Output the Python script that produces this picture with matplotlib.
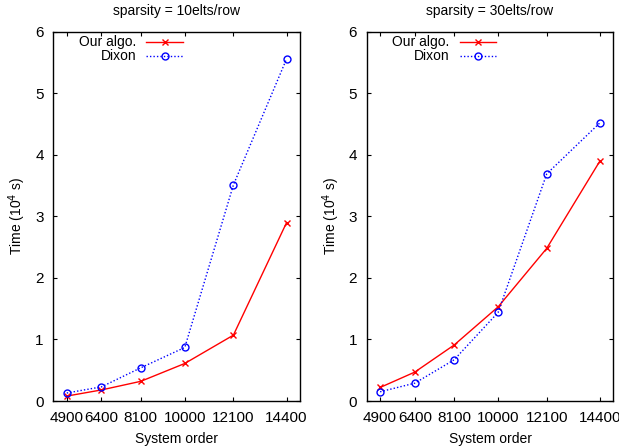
import numpy as np
import matplotlib
matplotlib.use("Agg")
import matplotlib.pyplot as plt

plt.rcParams['font.family'] = ['Liberation Sans', 'DejaVu Sans']

orders = [4900, 6400, 8100, 10000, 12100, 14400]
titles = ["sparsity = 10elts/row", "sparsity = 30elts/row"]

# time in 10^4 s
ours_10 = [0.08, 0.18, 0.32, 0.61, 1.07, 2.90]
dixon_10 = [0.13, 0.23, 0.54, 0.87, 3.51, 5.56]
ours_30 = [0.22, 0.47, 0.91, 1.53, 2.48, 3.90]
dixon_30 = [0.15, 0.29, 0.67, 1.44, 3.69, 4.52]

series = [(ours_10, dixon_10), (ours_30, dixon_30)]

fig = plt.figure(figsize=(6.19, 4.48), dpi=100)
lefts = [0.0862, 0.5924]

for k in range(2):
    ax = fig.add_axes([lefts[k], 0.1049, 0.3985, 0.8243])
    ours, dixon = series[k]
    ax.plot(orders, ours, color="red", linewidth=1, marker="x",
            markersize=5, markeredgewidth=1, label="Our algo.")
    ax.plot(orders, dixon, color="blue", linewidth=1, linestyle=(0, (1, 1.5)),
            marker="o", markersize=5, markerfacecolor="none",
            markeredgewidth=1, label="Dixon")
    ax.set_xlim(4320, 14980)
    ax.set_ylim(0, 6)
    ax.set_xticks(orders)
    ax.set_yticks(range(7))
    ax.tick_params(direction="in", top=True, right=True, length=3,
                   labelsize=11, pad=7)
    for s in ax.spines.values():
        s.set_linewidth(1)
    ax.set_title(titles[k], fontsize=10, pad=12)
    ax.set_xlabel("System order", fontsize=10, labelpad=5)
    ax.set_ylabel("Time (10$^4$ s)", fontsize=10, labelpad=5)
    ax.legend(loc="upper right", markerfirst=False, frameon=False, fontsize=10,
              handlelength=2.66, handletextpad=0.72, borderpad=0,
              borderaxespad=0, labelspacing=0.0,
              bbox_to_anchor=(0.526, 0.99))

fig.savefig("out.png", dpi=100)
